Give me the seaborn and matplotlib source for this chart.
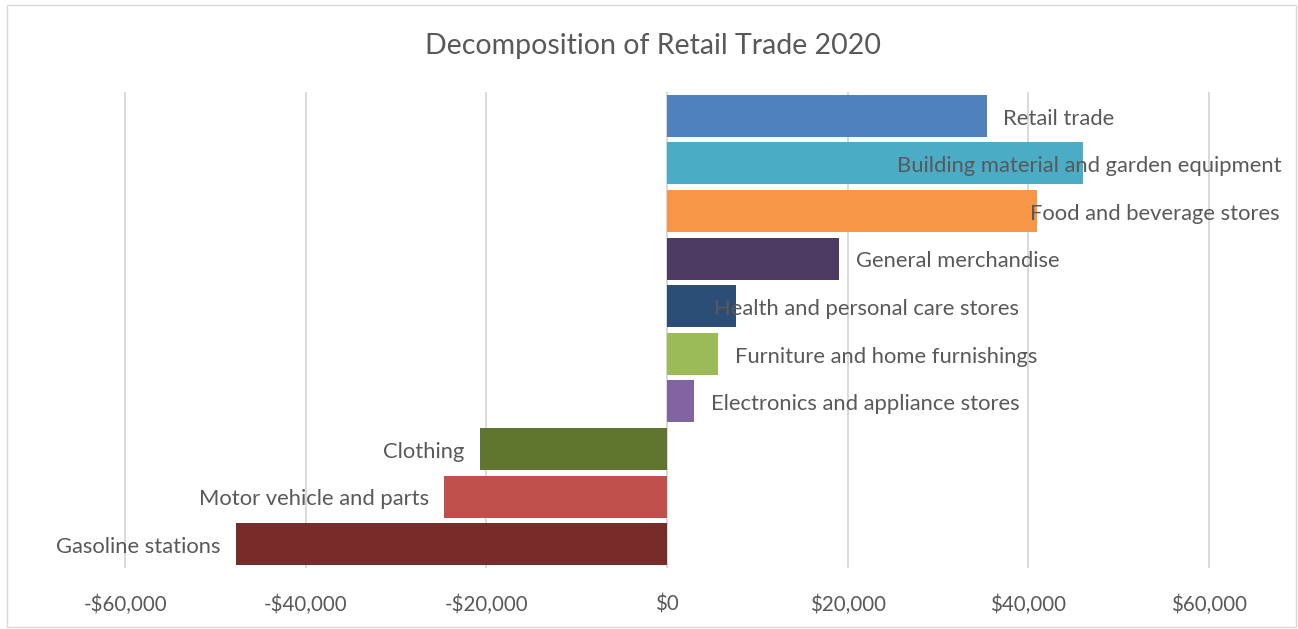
import pandas as pd
import matplotlib.pyplot as plt
import seaborn as sns
from matplotlib.patches import Rectangle
from matplotlib.ticker import FuncFormatter

categories = [
    "Retail trade",
    "Building material and garden equipment",
    "Food and beverage stores",
    "General merchandise",
    "Health and personal care stores",
    "Furniture and home furnishings",
    "Electronics and appliance stores",
    "Clothing",
    "Motor vehicle and parts",
    "Gasoline stations",
]
changes = [35400, 46100, 41000, 19060, 7650, 5650, 2990, -20720, -24700, -47760]
colors = ["#4F81BD", "#4BACC6", "#F79646", "#4D3B62", "#2C4D75",
          "#9BBB59", "#8064A2", "#5F7530", "#C0504D", "#772C2A"]
x_ticks = [-60000, -40000, -20000, 0, 20000, 40000, 60000]

# labels Excel pushed back inside the chart area (left edge, data units)
label_left = {
    "Building material and garden equipment": 25500,
    "Food and beverage stores": 40200,
    "Health and personal care stores": 5200,
}


def main():
    data = pd.DataFrame({"category": categories, "change": changes})

    sns.set_theme(style="white")
    plt.rcParams["font.family"] = ["Lato", "DejaVu Sans"]
    text_color = "#595959"
    label_size = 15.8

    fig = plt.figure(figsize=(12.98, 6.29), dpi=100)
    ax = fig.add_axes([107.4 / 1298, 61 / 629, (1226.6 - 107.4) / 1298, 476 / 629])

    sns.barplot(data=data, y="category", x="change", hue="category",
                palette=colors, order=categories, hue_order=categories,
                orient="h", width=0.88, saturation=1, legend=False,
                linewidth=0, ax=ax)

    ax.set_xlim(-62000, 62000)
    ax.set_ylim(9.5, -0.5)
    ax.set_xticks(x_ticks)
    ax.xaxis.set_major_formatter(FuncFormatter(
        lambda v, _: f"-${abs(v):,.0f}" if v < 0 else f"${v:,.0f}"))
    ax.tick_params(axis="x", labelsize=14.8, colors=text_color, length=0, pad=19)
    ax.set_yticks([])
    ax.set_xlabel("")
    ax.set_ylabel("")
    ax.grid(axis="x", color="#d9d9d9", linewidth=1.4)
    ax.set_axisbelow(True)
    for s in ax.spines.values():
        s.set_visible(False)

    for i, (cat, val) in enumerate(zip(categories, changes)):
        if cat in label_left:
            ax.annotate(cat, (label_left[cat], i), xytext=(0, -2),
                        textcoords="offset points", ha="left", va="center",
                        fontsize=label_size, color=text_color, annotation_clip=False)
        elif val >= 0:
            ax.annotate(cat, (val, i), xytext=(12, -2), textcoords="offset points",
                        ha="left", va="center", fontsize=label_size, color=text_color,
                        annotation_clip=False)
        else:
            ax.annotate(cat, (val, i), xytext=(-11, -2), textcoords="offset points",
                        ha="right", va="center", fontsize=label_size, color=text_color,
                        annotation_clip=False)

    fig.text(653 / 1298, 1 - 46 / 629, "Decomposition of Retail Trade 2020",
             ha="center", va="center", fontsize=20.5, color=text_color)

    fig.patches.append(Rectangle((7 / 1298, 2 / 629), 1289 / 1298, 622 / 629,
                                 transform=fig.transFigure, fill=False,
                                 edgecolor="#d9d9d9", linewidth=1))

    fig.savefig("out.png", dpi=100)


if __name__ == "__main__":
    main()
